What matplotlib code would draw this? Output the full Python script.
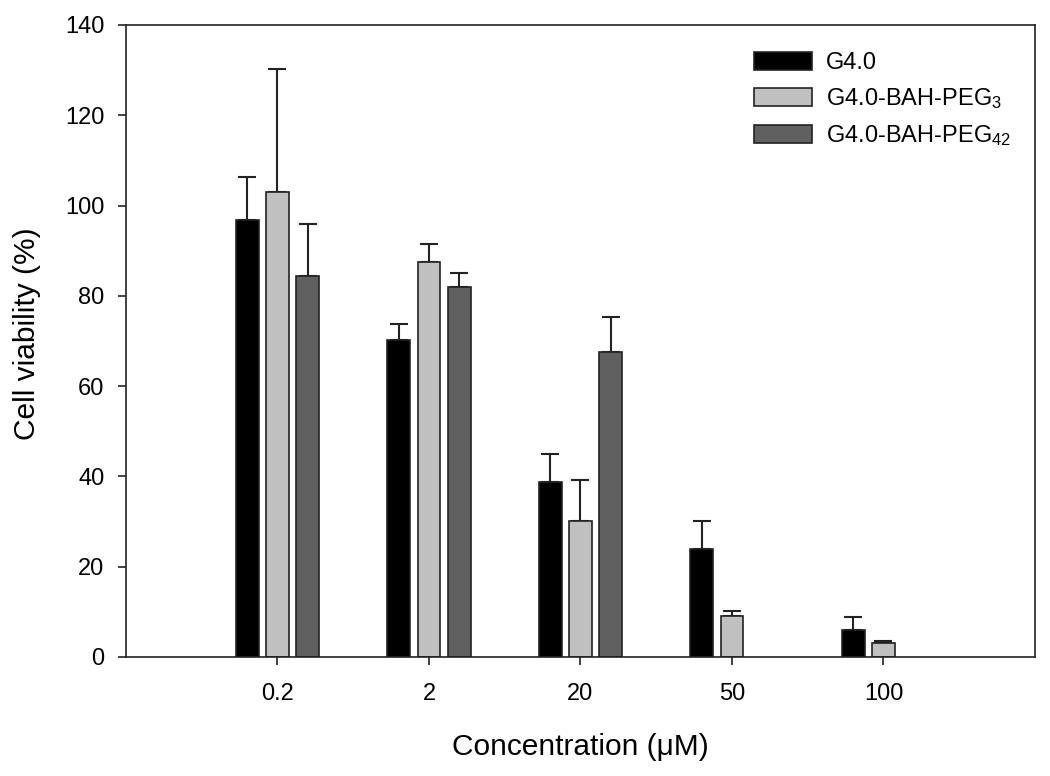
import matplotlib
matplotlib.use("Agg")
import matplotlib.pyplot as plt
import numpy as np

plt.rcParams['font.family'] = ['Liberation Sans', 'DejaVu Sans']
plt.rcParams['mathtext.default'] = 'regular'

categories = ["0.2", "2", "20", "50", "100"]
series_names = ["G4.0", "G4.0-BAH-PEG$_3$", "G4.0-BAH-PEG$_{42}$"]
g40 = [96.8, 70.3, 38.8, 24.0, 6.0]
g40_err = [9.5, 3.5, 6.2, 6.2, 2.9]
peg3 = [103.0, 87.5, 30.1, 9.1, 3.1]
peg3_err = [27.3, 4.0, 9.1, 1.1, 0.4]
peg42 = [84.5, 82.0, 67.6, 0.0, 0.0]
peg42_err = [11.5, 3.0, 7.7, 0.0, 0.0]

colors = ["#000000", "#c0c0c0", "#606060"]

fig = plt.figure(figsize=(10.5, 7.76), dpi=100)
ax = fig.add_axes([0.12, 0.1534, 0.8657, 0.8144])

x = np.arange(1, len(categories) + 1)
offsets = [-0.2, 0.0, 0.2]
width = 0.15
vals = [g40, peg3, peg42]
errs = [g40_err, peg3_err, peg42_err]
for i in range(3):
    v = np.array(vals[i])
    e = np.array(errs[i])
    mask = v > 0
    ax.bar(x[mask] + offsets[i], v[mask], width=width, color=colors[i],
           edgecolor='#222222', linewidth=1.2, label=series_names[i], zorder=2)
    ax.errorbar(x[mask] + offsets[i], v[mask], yerr=[np.zeros(mask.sum()), e[mask]],
                fmt='none', ecolor='#222222', elinewidth=1.5, capsize=6.8,
                capthick=1.5, zorder=1)

ax.set_xlim(0, 6)
ax.set_ylim(0, 140)
ax.set_xticks(x)
ax.set_xticklabels(categories)
ax.set_yticks(np.arange(0, 141, 20))
ax.tick_params(axis='both', direction='out', length=6, width=1.2, labelsize=17,
               color='#222222')
ax.tick_params(axis='x', pad=12.6)
ax.tick_params(axis='y', pad=9.5)
for s in ax.spines.values():
    s.set_linewidth(1.2)
    s.set_color('#222222')

ax.set_xlabel("Concentration (\u03bcM)", fontsize=21.5, labelpad=20)
ax.set_ylabel("Cell viability (%)", fontsize=21.5)
ax.yaxis.set_label_coords(-0.094, 0.511)

leg = ax.legend(loc='upper left', bbox_to_anchor=(0.68, 0.972), frameon=False,
                fontsize=17, handlelength=2.46, handleheight=0.8,
                handletextpad=0.6, labelspacing=0.5, borderaxespad=0)

fig.savefig("out.png", dpi=100)
